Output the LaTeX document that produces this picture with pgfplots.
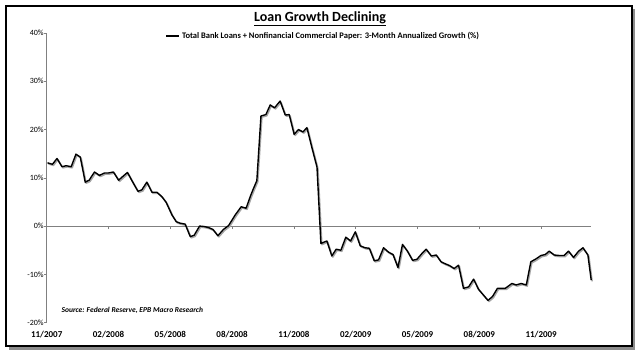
\documentclass[border=0pt]{standalone}
\usepackage{pgfplots}
\usepackage{pgfplotstable}
\pgfplotsset{compat=1.18}
\usepackage{fontspec}
\setmainfont{Carlito}

\pgfplotstableread{
x y
0.04 13.1
0.28 12.8
0.50 14.0
0.74 12.3
0.95 12.5
1.19 12.3
1.42 14.9
1.63 14.3
1.87 9.1
2.06 9.5
2.32 11.2
2.56 10.5
2.81 11.0
3.00 11.0
3.24 11.2
3.49 9.5
3.70 10.3
3.92 11.1
4.15 9.3
4.43 7.2
4.62 7.5
4.86 9.1
5.11 7.0
5.35 7.0
5.59 6.1
5.80 4.9
6.08 2.3
6.29 0.9
6.48 0.6
6.72 0.4
6.97 -2.2
7.16 -1.9
7.42 0.0
7.65 -0.1
7.85 -0.3
8.07 -0.7
8.31 -2.0
8.58 -0.7
8.83 0.1
9.15 2.3
9.44 4.0
9.68 3.7
9.88 6.1
10.01 7.5
10.20 9.4
10.40 22.8
10.64 23.1
10.85 25.1
11.06 24.5
11.33 25.9
11.58 23.0
11.77 23.1
12.01 19.0
12.22 20.0
12.44 19.5
12.63 20.4
12.87 16.3
13.12 12.2
13.31 -3.6
13.60 -3.1
13.84 -6.2
14.05 -4.8
14.28 -5.0
14.52 -2.3
14.75 -3.1
14.98 -1.2
15.22 -4.1
15.46 -4.5
15.66 -4.6
15.90 -7.2
16.11 -7.0
16.35 -4.5
16.59 -5.4
16.81 -5.9
17.05 -8.6
17.27 -3.8
17.51 -5.2
17.76 -7.1
17.97 -6.9
18.21 -5.7
18.42 -4.8
18.67 -6.2
18.91 -6.0
19.14 -7.4
19.34 -7.8
19.56 -8.2
19.78 -8.8
19.99 -8.1
20.23 -12.9
20.48 -12.6
20.72 -11.0
20.96 -13.1
21.20 -14.3
21.42 -15.4
21.64 -14.6
21.88 -12.9
22.06 -12.9
22.26 -12.9
22.58 -11.9
22.79 -12.2
23.03 -11.9
23.28 -12.2
23.50 -7.4
23.75 -6.8
23.99 -6.1
24.20 -5.9
24.39 -5.2
24.64 -6.0
24.88 -6.1
25.12 -6.1
25.33 -5.2
25.57 -6.5
25.82 -5.2
26.03 -4.5
26.27 -6.0
26.43 -11.2
}\loandata

\begin{document}
\begin{tikzpicture}
\useasboundingbox (0,0) rectangle (640bp,356bp);
% frame with shadow
\fill[black!45] (9bp,6bp) rectangle (635bp,347bp);
\filldraw[fill=white, draw=black, line width=1.8bp] (6bp,10bp) rectangle (632bp,350bp);
% title
\node[font=\fontsize{14bp}{16bp}\selectfont\bfseries] at (320bp,337bp) {\underline{Loan Growth Declining}};
% zero line with ticks
\begin{axis}[
  at={(46.7bp,33.4bp)}, anchor=south west,
  scale only axis, width=544.5bp, height=289.6bp,
  xmin=0, xmax=26.43, ymin=-20, ymax=40,
  axis x line=middle, axis y line=none,
  axis line style={-, black!50, line width=0.6bp},
  xtick={3,6,...,24}, xticklabels={},
  ytick=\empty,
  major tick length=3bp,
  tick style={black!50, line width=0.6bp},
  tick align=outside,
]
\end{axis}
% main axis
\begin{axis}[
  at={(46.7bp,33.4bp)}, anchor=south west,
  scale only axis, width=544.5bp, height=289.6bp,
  xmin=0, xmax=26.43, ymin=-20, ymax=40,
  axis x line=bottom, axis y line=left,
  axis line style={-},
  x axis line style={draw=none},
  y axis line style={black!50, line width=0.6bp},
  xtick={0,3,...,24},
  xticklabels={11/2007,02/2008,05/2008,08/2008,11/2008,02/2009,05/2009,08/2009,11/2009},
  major x tick style={draw=none},
  xticklabel style={font=\fontsize{9bp}{10bp}\selectfont\bfseries, yshift=-3bp},
  ytick={-20,-10,...,40},
  yticklabels={-20\%,-10\%,0\%,10\%,20\%,30\%,40\%},
  yticklabel style={font=\fontsize{8bp}{10bp}\selectfont, xshift=3bp},
  major y tick style={black!50, line width=0.6bp},
  tick align=outside,
  major tick length=2.5bp,
  /pgf/number format/assume math mode=true,
  legend style={at={(0.508,0.99)}, anchor=center, draw=none, fill=none,
    font=\fontsize{8.5bp}{9bp}\selectfont\bfseries, inner sep=0pt,
    /tikz/every even column/.append style={column sep=0pt}},
  legend cell align=left,
  legend image code/.code={\draw[black, line width=1.4bp] (0bp,0bp) -- (13bp,0bp);},
  clip=false,
]
\addplot[black!35, line width=1.4bp, line join=round, transform canvas={xshift=1bp,yshift=-1.2bp}, forget plot] table[x=x,y=y] {\loandata};
\addplot[black, line width=1.4bp, line join=round] table[x=x,y=y] {\loandata};
\addlegendentry{Total Bank Loans + Nonfinancial Commercial Paper: 3-Month Annualized Growth (\%)}
\node[anchor=west, font=\fontsize{7.5bp}{8bp}\selectfont\bfseries\itshape] at (rel axis cs:0.021,0.042) {Source: Federal Reserve, EPB Macro Research};
\end{axis}
\end{tikzpicture}
\end{document}
